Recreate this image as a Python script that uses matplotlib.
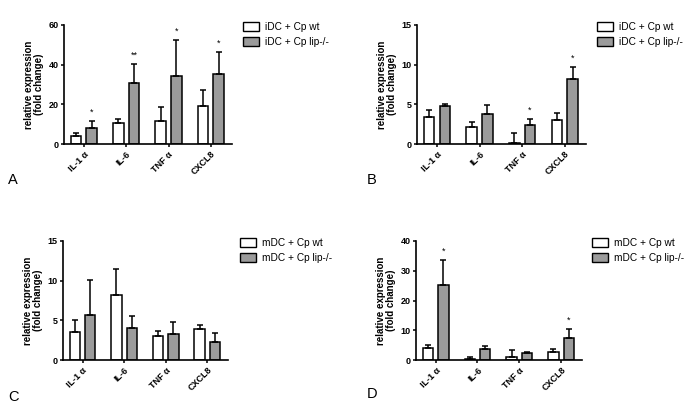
import numpy as np
import matplotlib
matplotlib.use('Agg')
import matplotlib.pyplot as plt
from matplotlib.patches import Patch

plt.rcParams['font.family'] = ['Liberation Sans', 'DejaVu Sans']

genes = ['IL-1 α', 'IL-6', 'TNF α', 'CXCL8']

# panel A - iDC, big scale
a_wt = [4.0, 10.6, 11.4, 19.3]
a_wt_err = [1.4, 2.2, 7.4, 7.8]
a_lip = [8.2, 30.6, 34.5, 35.5]
a_lip_err = [3.4, 9.6, 17.8, 10.9]
a_stars = ['*', '**', '*', '*']

# panel B - iDC
b_wt = [3.4, 2.18, 0.17, 2.98]
b_wt_err = [0.93, 0.59, 1.26, 0.92]
b_lip = [4.75, 3.78, 2.44, 8.24]
b_lip_err = [0.33, 1.18, 0.75, 1.46]
b_stars = ['', '', '*', '*']

# panel C - mDC
c_wt = [3.57, 8.19, 2.98, 3.95]
c_wt_err = [1.43, 3.31, 0.72, 0.46]
c_lip = [5.71, 4.03, 3.32, 2.23]
c_lip_err = [4.37, 1.47, 1.47, 1.22]
c_stars = ['', '', '', '']

# panel D - mDC
d_wt = [3.9, 0.45, 0.9, 2.7]
d_wt_err = [1.1, 0.65, 2.6, 0.9]
d_lip = [25.1, 3.7, 2.35, 7.3]
d_lip_err = [8.6, 1.0, 0.45, 3.2]
d_stars = ['*', '', '', '*']

panels = [
    ('A', 'iDC', a_wt, a_wt_err, a_lip, a_lip_err, a_stars, 60, [0, 20, 40, 60]),
    ('B', 'iDC', b_wt, b_wt_err, b_lip, b_lip_err, b_stars, 15, [0, 5, 10, 15]),
    ('C', 'mDC', c_wt, c_wt_err, c_lip, c_lip_err, c_stars, 15, [0, 5, 10, 15]),
    ('D', 'mDC', d_wt, d_wt_err, d_lip, d_lip_err, d_stars, 40, [0, 10, 20, 30, 40]),
]

W, H = 685, 417
# axes boxes in pixels: left, y_bottom(from top), right, y_top(from top)
boxes = [(64, 144, 232, 25), (417, 144, 586, 25), (63, 360, 228, 241), (416, 360, 582, 241)]
letter_pos = [(8, 180), (367, 180), (8, 397), (367, 394)]
legend_x = [243, 597, 240, 592]

grey = '#9b9b9b'
fig = plt.figure(figsize=(6.85, 4.17), dpi=100)
x = np.arange(len(genes))
bw = 0.25
off = 0.185

for i, (letter, cell, wt, wt_err, lip, lip_err, stars, ymax, yt) in enumerate(panels):
    l, b, r, t = boxes[i]
    ax = fig.add_axes([l / W, (H - b) / H, (r - l) / W, (b - t) / H])
    ax.bar(x - off, wt, bw, color='white', edgecolor='black', linewidth=1.1,
           yerr=[np.zeros(4), wt_err], error_kw=dict(elinewidth=1.1, capsize=2.5, capthick=1.1))
    ax.bar(x + off, lip, bw, color=grey, edgecolor='black', linewidth=1.1,
           yerr=[np.zeros(4), lip_err], error_kw=dict(elinewidth=1.1, capsize=2.5, capthick=1.1))
    for j, s in enumerate(stars):
        if s:
            ax.text(x[j] + off, lip[j] + lip_err[j] + ymax * 0.035, s, ha='center', va='bottom', fontsize=6.5)
    ax.set_ylim(0, ymax)
    ax.set_xlim(-0.47, 3.5)
    ax.set_yticks(yt)
    ax.set_xticks(x)
    ax.set_xticklabels(genes, rotation=45, ha='right', rotation_mode='anchor', fontsize=6.5, fontweight='bold')
    for lab in ax.get_yticklabels():
        lab.set_fontsize(6.5)
        lab.set_fontweight('bold')
    ax.tick_params(axis='both', length=2.5, width=1.1, pad=1.5)
    ax.spines['top'].set_visible(False)
    ax.spines['right'].set_visible(False)
    ax.spines['left'].set_linewidth(1.2)
    ax.spines['bottom'].set_linewidth(1.2)
    ax.set_ylabel('relative expression\n(fold change)', fontsize=7, fontweight='bold', labelpad=3, linespacing=1.0)

    handles = [Patch(facecolor='white', edgecolor='black', linewidth=1),
               Patch(facecolor=grey, edgecolor='black', linewidth=1)]
    fig.legend(handles, [cell + ' + Cp wt', cell + ' + Cp lip-/-'],
               loc='upper left', bbox_to_anchor=(legend_x[i] / W, (H - t + 3) / H),
               frameon=False, fontsize=7.3, handlelength=1.6, handleheight=0.9,
               handletextpad=0.6, labelspacing=0.5, borderpad=0, borderaxespad=0)
    lx, ly = letter_pos[i]
    fig.text(lx / W, (H - ly) / H, letter, fontsize=10.5, ha='left', va='center')

fig.savefig('out.png', dpi=100)
